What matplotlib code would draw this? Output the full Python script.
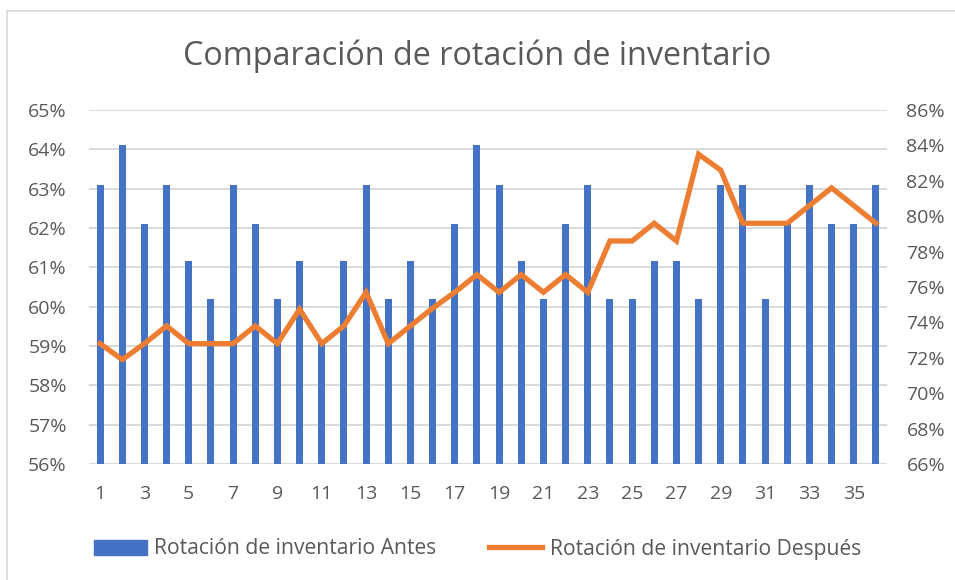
import matplotlib
matplotlib.use('Agg')
import matplotlib.pyplot as plt
from matplotlib.ticker import PercentFormatter
from matplotlib.lines import Line2D

plt.rcParams['font.family'] = ['Open Sans', 'DejaVu Sans']

periods = list(range(1, 37))
antes = [63.1, 64.1, 62.1, 63.1, 61.15, 60.2, 63.1, 62.1, 60.2, 61.15,
         59.1, 61.15, 63.1, 60.2, 61.15, 60.2, 62.1, 64.1, 63.1, 61.15,
         60.2, 62.1, 63.1, 60.2, 60.2, 61.15, 61.15, 60.2, 63.1, 63.1,
         60.2, 62.1, 63.1, 62.1, 62.1, 63.1]
despues = [72.8, 71.9, 72.8, 73.8, 72.8, 72.8, 72.8, 73.8, 72.8, 74.75,
           72.8, 73.8, 75.7, 72.8, 73.8, 74.8, 75.7, 76.7, 75.7, 76.7,
           75.7, 76.7, 75.7, 78.6, 78.6, 79.6, 78.6, 83.5, 82.6, 79.6,
           79.6, 79.6, 80.6, 81.6, 80.6, 79.6]
xticks = list(range(1, 37, 2))

text_col = '#595959'
grid_col = '#D9D9D9'
blue = '#4472C4'
orange = '#ED7D31'

fig = plt.figure(figsize=(9.55, 5.8), dpi=100)
ax = fig.add_axes([89/955, 116/580, 798/955, 354/580])
ax2 = ax.twinx()

ax.bar(periods, [v / 100 for v in antes], width=0.31, color=blue, zorder=2)
ax2.plot(periods, [v / 100 for v in despues], color=orange, lw=3.8,
         solid_joinstyle='miter', zorder=3)

ax.set_xlim(0.5, 36.5)
ax.set_ylim(0.56, 0.65)
ax.set_yticks([0.56 + 0.01 * i for i in range(10)])
ax.yaxis.set_major_formatter(PercentFormatter(1.0, decimals=0))
ax2.set_ylim(0.66, 0.86)
ax2.set_yticks([0.66 + 0.02 * i for i in range(11)])
ax2.yaxis.set_major_formatter(PercentFormatter(1.0, decimals=0))
ax.set_xticks(xticks)

ax.grid(axis='y', color=grid_col, lw=1.4, zorder=0)
ax.set_axisbelow(True)
for a in (ax, ax2):
    for s in a.spines.values():
        s.set_visible(False)
    a.tick_params(length=0, labelsize=14, labelcolor=text_col)
ax.tick_params(axis='y', pad=16)
ax2.tick_params(axis='y', pad=14)
ax.tick_params(axis='x', pad=15)
ax.set_zorder(ax2.get_zorder() - 1)
ax.patch.set_visible(False)

fig.text(0.5, 1 - 56/580, 'Comparación de rotación de inventario',
         ha='center', va='center', fontsize=23.3, color=text_col)

handles = [plt.Rectangle((0, 0), 1, 1, color=blue),
           Line2D([0], [0], color=orange, lw=3.8)]
fig.legend(handles, ['Rotación de inventario Antes', 'Rotación de inventario Después'],
           loc='center', bbox_to_anchor=(0.5, 1 - 549/580), ncol=2, frameon=False,
           fontsize=15.2, labelcolor=text_col, handlelength=2.5, handleheight=0.7,
           columnspacing=2.5, handletextpad=0.35)

# chart border (top and left edges visible)
fig.add_artist(Line2D([7/955, 7/955], [0, 1 - 11/580], color='#D9D9D9', lw=1.2))
fig.add_artist(Line2D([7/955, 1], [1 - 11/580, 1 - 11/580], color='#D9D9D9', lw=1.2))

fig.savefig('out.png', dpi=100)
